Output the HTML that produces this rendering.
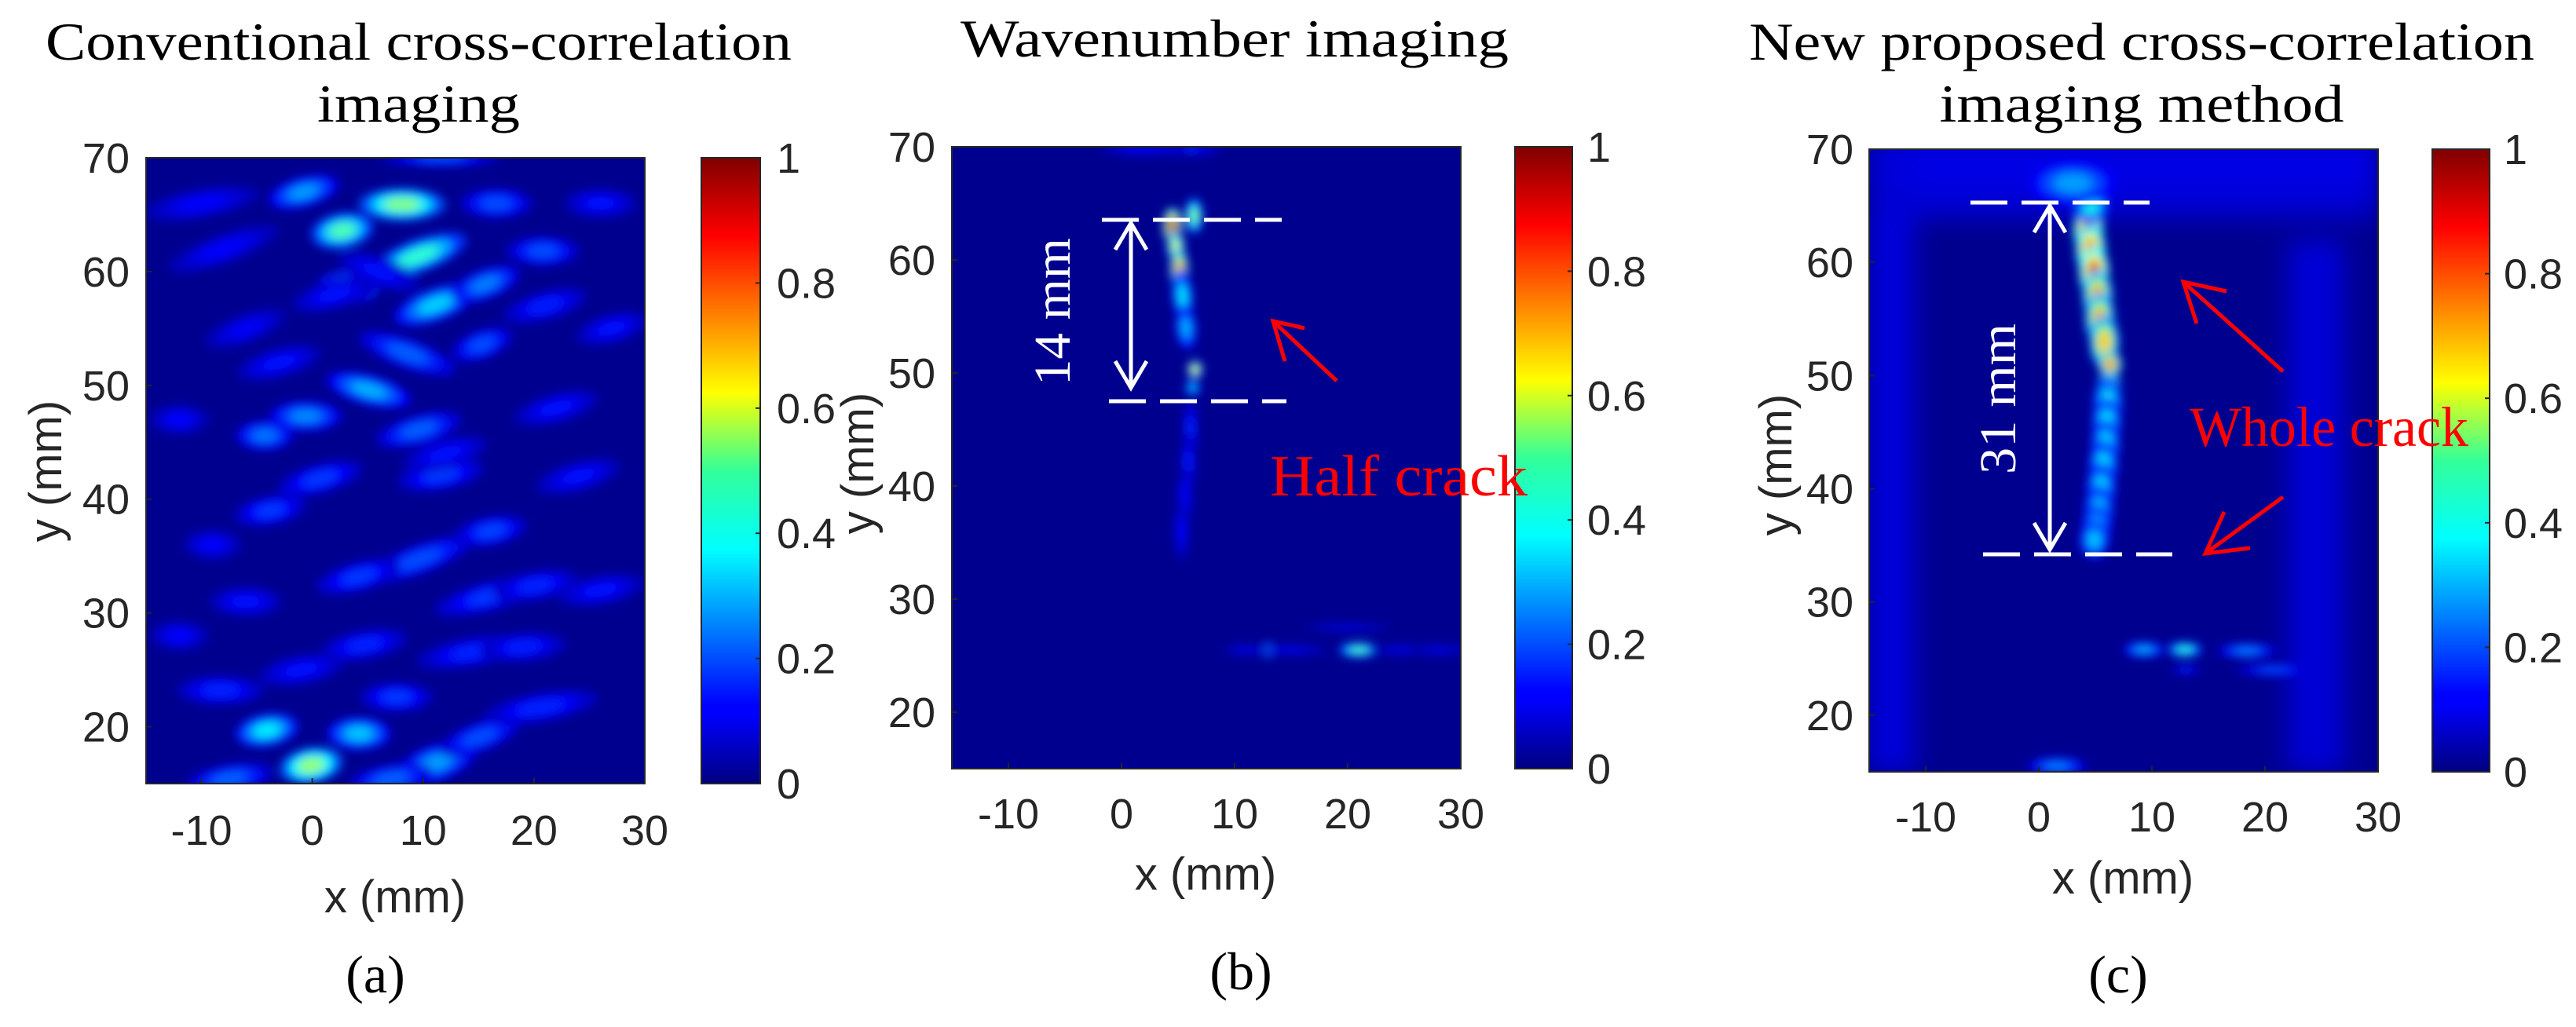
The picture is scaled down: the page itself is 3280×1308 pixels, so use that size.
<!DOCTYPE html>
<html><head><meta charset="utf-8"><style>
html,body{margin:0;padding:0;background:#fff;}
svg{display:block;}
.tk{font-family:"Liberation Sans",sans-serif;font-size:54px;fill:#262626;}
.ttl{font-family:"Liberation Serif",serif;font-size:68px;fill:#000;}
</style></head><body>
<svg id="fig" xmlns="http://www.w3.org/2000/svg" width="3280" height="1308" viewBox="0 0 3280 1308">
<defs>
<linearGradient id="jet" x1="0" y1="1" x2="0" y2="0">
<stop offset="0" stop-color="#000080"/><stop offset="0.11" stop-color="#0000ff"/><stop offset="0.125" stop-color="#0000ff"/>
<stop offset="0.375" stop-color="#00ffff"/><stop offset="0.5" stop-color="#33ff99"/><stop offset="0.625" stop-color="#ffff00"/>
<stop offset="0.875" stop-color="#ff0000"/><stop offset="1" stop-color="#800000"/>
</linearGradient>
<filter id="blur" x="-20%" y="-20%" width="140%" height="140%"><feGaussianBlur stdDeviation="6"/></filter>
<filter id="blur2" x="-20%" y="-20%" width="140%" height="140%"><feGaussianBlur stdDeviation="16"/></filter>
</defs>
<g id="layer"></g>
</svg>
<script>
// ---- Panel (a): conventional cross-correlation blobs ----
const aX=[8.1,2.7,9.6,3.2,11.1,-0.8,16.6,20.8,15.6,15.3,8.6,5.1,-0.6,9.6,-4.3,0.7,11.6,-3.8,16.1,9.6,4.2,16.1,20.1,4.7,14.6,19,7.6,-8.3,-4.1,4.2,-0.1,11.1,15.1,20.6,-7.5,7.1,11.6,-10,-8,-6,24,27,26,21,26,-12,-9,2,6,-12,-6,12,22,-3,-1];
const aY=[65.9,63.6,61.4,58.6,57.1,67,66,61.8,58.9,53.6,52.8,49.6,47.3,46.1,45.6,41.8,42.1,39,37.2,34.7,33.2,31.5,32.4,27.2,26.6,27,22.6,23.2,19.7,19.4,16.6,16.8,19.1,21.7,15.4,15.4,70,66,62,55,42,55,66,57,32,47,36,58,60,28,31,44,48,52,25];
const aV=[0.5,0.45,0.42,0.35,0.33,0.28,0.2,0.2,0.25,0.2,0.22,0.3,0.26,0.22,0.24,0.18,0.18,0.18,0.19,0.2,0.18,0.18,0.16,0.16,0.16,0.15,0.18,0.16,0.36,0.32,0.52,0.28,0.2,0.16,0.22,0.22,0.2,0.13,0.13,0.12,0.14,0.14,0.14,0.15,0.14,0.13,0.13,0.14,0.14,0.13,0.14,0.14,0.14,0.14,0.14];
const aRX=[3,2.2,3.5,2.2,3,2.5,2.5,2.5,2.5,2.2,3.5,3,2.5,3,2,3,3,2.5,2.5,4,3,4,3,3,4,3,2.5,3,2.2,2.2,2.2,3,3,4,3,3,4,4,4,3,3,2.5,2.5,3,3,2,2,3,3,2,2.5,3,3,3,3];
const aRY=[1.1,1.2,1.1,1.1,1.1,1,1,1,1,1,1,1,1,1,1,1,1,1,1,1,1,1,1,1,1,1,1,1,1.1,1.1,1.2,1.2,1,1,1,1,0.6,1,1,1,1,1,1,1,1,1,1,1,1,1,1,1,1,1,1];
const aRot=[0,-10,-20,0,-20,-15,0,0,-20,-20,20,15,0,-15,0,-15,-10,-10,-10,-20,-15,-15,-10,-10,-10,-5,0,0,-10,0,-10,-20,-20,-10,-10,-10,0,-10,-20,-20,-15,-15,0,-15,-10,0,0,-15,20,0,0,-15,-15,-15,-10];
// ---- Panel (b): wavenumber imaging ----
const bX=[4.5,4.8,5.1,6.4,5.4,5.7,6.5,6.3,6.1,5.9,5.6,5.3,13,21,15,25,28,11,20,5,2];
const bY=[63,61.2,59.2,63.9,56.8,54,50.3,48.7,45,42,39,36,25.5,25.5,25.5,25.5,25.5,25.5,27.5,69.8,69.8];
const bV=[0.97,0.6,0.75,0.5,0.35,0.3,0.65,0.35,0.16,0.15,0.14,0.13,0.38,0.45,0.13,0.12,0.12,0.13,0.1,0.18,0.14];
const bRX=[0.6,0.6,0.6,0.6,0.7,0.7,0.5,0.5,0.5,0.5,0.5,0.5,0.6,1.4,2.5,2.5,2,1.5,3,3,3];
const bRY=[1.2,1.0,1.4,1.2,1.8,1.5,0.6,0.5,2,2,2,2,0.5,0.5,0.3,0.3,0.3,0.3,0.3,0.4,0.4];
const bRot=[0,0,0,0,-5,-5,0,0,0,0,0,0,0,0,0,0,0,0,0,0,0];
// ---- Panel (c): new proposed method ----
const cX=[4.4,4.6,4.9,5.2,5.4,5.8,6.3,6.2,6.1,6,5.9,5.7,5.5,5.3,5.1,4.9,4.6,3,1.6,9.3,12.9,18.4,20.8,13];
const cY=[62.8,61,59.1,57,55,53,51,49.2,47.5,45.7,43.8,42,40,38,36.5,35.5,65,67,15.5,25.8,25.8,25.7,24,24];
const cV=[0.97,0.85,0.92,0.75,0.72,0.68,0.75,0.65,0.4,0.38,0.37,0.36,0.35,0.34,0.34,0.32,0.4,0.28,0.25,0.3,0.42,0.25,0.2,0.16];
const cRX=[1.0,1.0,1.0,1.0,1.0,1.0,0.8,0.8,1.0,1.0,1.0,1.0,1.0,1.0,1.0,1.0,1.2,3,2,1.4,1.2,2,2.5,1];
const cRY=[1.8,1.8,1.8,1.8,1.8,1.8,0.9,0.9,1.8,1.8,1.8,1.8,1.8,1.8,1.6,1.3,1.2,1.5,0.6,0.5,0.5,0.5,0.4,0.3];
const cRot=[0,0,0,0,0,0,0,0,0,0,0,0,0,0,0,0,0,0,0,0,0,0,0,0,0];
// background bands in (c): x0,x1,y0,y1,value
const cBandX0=[-15,-15,22,-15];
const cBandX1=[30,-11,27,30];
const cBandY0=[64,15,15,64.5];
const cBandY1=[71,71,62,66.5];
const cBandV=[0.1,0.09,0.085,0.08];

const xTicks=[-10,0,10,20,30];
const yTicks=[20,30,40,50,60,70];
const cTicks=[0,0.2,0.4,0.6,0.8,1];

const NS='http://www.w3.org/2000/svg';
const root=document.getElementById('layer');
function mk(tag,attrs,parent){const e=document.createElementNS(NS,tag);for(const k in attrs)e.setAttribute(k,attrs[k]);(parent||root).appendChild(e);return e;}
function jet(v){const c=t=>Math.max(0,Math.min(1,t));const r=c(1.5-Math.abs(4*v-3)),g=c(1.5-Math.abs(4*v-2)),b=c(1.5-Math.abs(4*v-1));return `rgb(${Math.round(r*255)},${Math.round(g*255)},${Math.round(b*255)})`;}
const BG=0.015;
const panels=[
 {id:'a',L:186,R:821,T:201,B:998,cbL:893,cbR:968,tickR:165,xtY:1057,cbLab:989,xs:[aX,aY,aV,aRX,aRY,aRot]},
 {id:'b',L:1212,R:1860,T:187,B:979,cbL:1929,cbR:2002,tickR:1191,xtY:1036,cbLab:2021,xs:[bX,bY,bV,bRX,bRY,bRot]},
 {id:'c',L:2380,R:3028,T:190,B:983,cbL:3097,cbR:3170,tickR:2360,xtY:1040,cbLab:3188,xs:[cX,cY,cV,cRX,cRY,cRot]}
];
panels.forEach(p=>{
  const sx=x=>p.L+(x+15)/45*(p.R-p.L);
  const sy=y=>p.T+(70-y)/55*(p.B-p.T);
  const kx=(p.R-p.L)/45, ky=(p.B-p.T)/55;
  const g=mk('g',{});
  
  
  const cp=mk('clipPath',{id:'clip'+p.id},g);
  mk('rect',{x:p.L,y:p.T,width:p.R-p.L,height:p.B-p.T},cp);
  const bg=mk('rect',{x:p.L,y:p.T,width:p.R-p.L,height:p.B-p.T,fill:jet(BG)},g);
  
  
  const inner=mk('g',{'clip-path':`url(#clip${p.id})`},g);
  if(p.id==='c'){
    const bb=mk('g',{filter:'url(#blur2)'},inner);
    cBandV.forEach((v,i)=>{
      const r=mk('rect',{x:sx(cBandX0[i]),y:sy(cBandY1[i]),width:sx(cBandX1[i])-sx(cBandX0[i]),height:sy(cBandY0[i])-sy(cBandY1[i]),fill:jet(v)},bb);
      
      
    });
  }
  const bl=mk('g',{filter:'url(#blur)'},inner);
  const [X,Y,V,RX,RY,ROT]=p.xs;
  X.forEach((x,i)=>{
    const cx=sx(x),cy=sy(Y[i]);
    const grp=mk('g',{transform:`rotate(${ROT[i]||0} ${cx} ${cy})`},bl);
    
    
    [[1.3,0.4],[0.9,0.7],[0.55,1]].forEach(([s,f])=>{
      mk('ellipse',{cx:cx,cy:cy,rx:RX[i]*kx*s,ry:RY[i]*ky*s,fill:jet(BG+(V[i]-BG)*f)},grp);
    });
  });
  const fr=mk('rect',{x:p.L,y:p.T,width:p.R-p.L,height:p.B-p.T,fill:'none',stroke:'#262626','stroke-width':2},g);
  
  
  xTicks.forEach(t=>{
    const lab=mk('text',{x:sx(t),y:p.xtY+19,'text-anchor':'middle',class:'tk'});
    lab.textContent=t;
    
    
    mk('line',{x1:sx(t),x2:sx(t),y1:p.B,y2:p.B-7,stroke:'#262626','stroke-width':2});
  });
  yTicks.forEach(t=>{
    const lab=mk('text',{x:p.tickR,y:sy(t)+19,'text-anchor':'end',class:'tk'});
    lab.textContent=t;
    
    
    mk('line',{x1:p.L,x2:p.L+7,y1:sy(t),y2:sy(t),stroke:'#262626','stroke-width':2});
  });
  const cb=mk('rect',{x:p.cbL,y:p.T,width:p.cbR-p.cbL,height:p.B-p.T,fill:'url(#jet)',stroke:'#262626','stroke-width':2});
  
  
  cTicks.forEach(t=>{
    const yy=p.B-t*(p.B-p.T);
    const lab=mk('text',{x:p.cbLab,y:yy+19,class:'tk'});
    lab.textContent=t;
    
    
    mk('line',{x1:p.cbR,x2:p.cbR-6,y1:yy,y2:yy,stroke:'#262626','stroke-width':2});
  });
});
</script>
<svg style="position:absolute;left:0;top:0" width="3280" height="1308" xmlns="http://www.w3.org/2000/svg">
<text class="ttl" x="533" y="76" text-anchor="middle" textLength="950" lengthAdjust="spacingAndGlyphs">Conventional cross-correlation</text>
<text class="ttl" x="533" y="155" text-anchor="middle" textLength="258" lengthAdjust="spacingAndGlyphs">imaging</text>
<text class="ttl" x="1572" y="72" text-anchor="middle" textLength="698" lengthAdjust="spacingAndGlyphs">Wavenumber imaging</text>
<text class="ttl" x="2727" y="76" text-anchor="middle" textLength="1000" lengthAdjust="spacingAndGlyphs">New proposed cross-correlation</text>
<text class="ttl" x="2727" y="155" text-anchor="middle" textLength="515" lengthAdjust="spacingAndGlyphs">imaging method</text>
<text class="tk" x="503" y="1162" text-anchor="middle" style="font-size:58px">x (mm)</text>
<text class="tk" x="1535" y="1133" text-anchor="middle" style="font-size:58px">x (mm)</text>
<text class="tk" x="2703" y="1138" text-anchor="middle" style="font-size:58px">x (mm)</text>
<text class="tk" transform="translate(78,600) rotate(-90)" text-anchor="middle" style="font-size:58px">y (mm)</text>
<text class="tk" transform="translate(1112,590) rotate(-90)" text-anchor="middle" style="font-size:58px">y (mm)</text>
<text class="tk" transform="translate(2281,592) rotate(-90)" text-anchor="middle" style="font-size:58px">y (mm)</text>
<text class="ttl" x="478" y="1264" text-anchor="middle">(a)</text>
<text class="ttl" x="1580" y="1260" text-anchor="middle">(b)</text>
<text class="ttl" x="2697" y="1264" text-anchor="middle">(c)</text>
<g stroke="#fff" stroke-width="5" fill="none">
<line x1="1403" y1="280" x2="1632" y2="280" stroke-dasharray="47,18"/>
<line x1="1412" y1="511" x2="1638" y2="511" stroke-dasharray="47,18"/>
<line x1="1440" y1="284" x2="1440" y2="494"/>
<polyline points="1420,318 1440,284 1460,318"/>
<polyline points="1420,460 1440,494 1460,460"/>
</g>
<text transform="translate(1362,397) rotate(-90)" text-anchor="middle" font-family="Liberation Serif, serif" font-size="66" fill="#fff" textLength="188" lengthAdjust="spacingAndGlyphs">14 mm</text>
<g stroke="#f00" stroke-width="5" fill="none">
<line x1="1702" y1="485" x2="1621" y2="409"/>
<polyline points="1661,418 1621,409 1636,460"/>
</g>
<text x="1617" y="631" font-family="Liberation Serif, serif" font-size="74" fill="#f00" textLength="328" lengthAdjust="spacingAndGlyphs">Half crack</text>
<g stroke="#fff" stroke-width="5" fill="none">
<line x1="2509" y1="258" x2="2737" y2="258" stroke-dasharray="47,18"/>
<line x1="2525" y1="706" x2="2766" y2="706" stroke-dasharray="47,18"/>
<line x1="2610" y1="262" x2="2610" y2="700"/>
<polyline points="2590,296 2610,262 2630,296"/>
<polyline points="2590,666 2610,700 2630,666"/>
</g>
<text transform="translate(2566,508) rotate(-90)" text-anchor="middle" font-family="Liberation Serif, serif" font-size="66" fill="#fff" textLength="192" lengthAdjust="spacingAndGlyphs">31 mm</text>
<g stroke="#f00" stroke-width="5" fill="none">
<line x1="2907" y1="473" x2="2780" y2="359"/>
<polyline points="2835,371 2780,359 2797,412"/>
<line x1="2907" y1="633" x2="2808" y2="705"/>
<polyline points="2865,698 2808,705 2832,652"/>
</g>
<text x="2788" y="568" font-family="Liberation Serif, serif" font-size="72" fill="#f00" textLength="355" lengthAdjust="spacingAndGlyphs">Whole crack</text>
</svg>
</body></html>
